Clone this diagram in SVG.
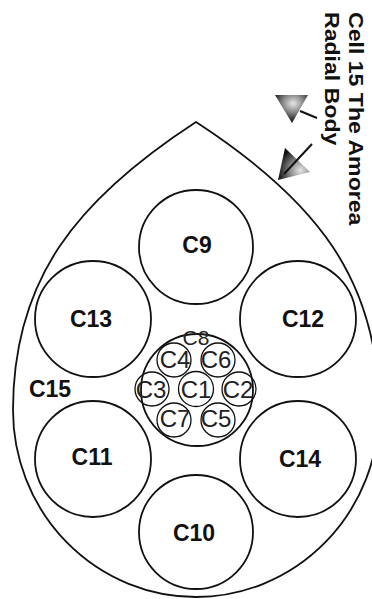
<svg xmlns="http://www.w3.org/2000/svg" width="372" height="599" viewBox="0 0 372 599">
  <style>
    .c { fill: #fff; stroke: #111; stroke-width: 1.8; }
    .s { fill: none; stroke: #111; stroke-width: 1.3; }
    .lb { font-family: "Liberation Sans", Arial, sans-serif; font-weight: bold; font-size: 23px; fill: #111; text-anchor: middle; }
    .ls { font-family: "Liberation Sans", Arial, sans-serif; font-size: 24px; fill: #222; text-anchor: middle; }
    .tt { font-family: "Liberation Sans", Arial, sans-serif; font-weight: bold; font-size: 21px; fill: #111; }
    .ln { stroke: #111; stroke-width: 2; fill: none; }
  </style>
  <defs>
    <radialGradient id="g1" cx="0.55" cy="0.3" r="0.7">
      <stop offset="0" stop-color="#e6e6e6"/>
      <stop offset="0.45" stop-color="#888"/>
      <stop offset="1" stop-color="#050505"/>
    </radialGradient>
    <radialGradient id="g2" cx="0.7" cy="0.7" r="0.75">
      <stop offset="0" stop-color="#e6e6e6"/>
      <stop offset="0.45" stop-color="#888"/>
      <stop offset="1" stop-color="#050505"/>
    </radialGradient>
  </defs>

  <g id="title">
    <text class="tt" transform="translate(349,12) rotate(90) scale(1.1,1)">Cell 15 The Amorea</text>
    <text class="tt" transform="translate(325,12) rotate(90) scale(1.1,1)">Radial Body</text>
  </g>

  <g id="C15">
    <path class="c" d="M196,122 C76,200 13,280 13,410 A183,187 0 0 0 379,410 C379,280 316,200 196,122 Z"/>
    <text class="lb" x="50" y="397">C15</text>
  </g>

  <g id="connectors">
    <line class="ln" x1="300" y1="111" x2="317" y2="118"/>
    <polygon points="275,95 308,95 292,123" fill="url(#g1)"/>
    <polygon points="285,148 310,172 278,180" fill="url(#g2)"/>
    <line class="ln" x1="312" y1="144" x2="284" y2="174"/>
  </g>

  <g id="C9"><circle class="c" cx="196" cy="247" r="57"/><text class="lb" x="197" y="253">C9</text></g>
  <g id="C13"><circle class="c" cx="93" cy="319" r="58"/><text class="lb" x="91" y="327">C13</text></g>
  <g id="C12"><circle class="c" cx="298" cy="319" r="58"/><text class="lb" x="303" y="327">C12</text></g>
  <g id="C11"><circle class="c" cx="93" cy="459" r="58"/><text class="lb" x="92" y="465">C11</text></g>
  <g id="C14"><circle class="c" cx="298" cy="459" r="58"/><text class="lb" x="300" y="467">C14</text></g>
  <g id="C10"><circle class="c" cx="196" cy="532" r="57"/><text class="lb" x="194" y="541">C10</text></g>

  <g id="C8">
    <circle class="c" cx="197" cy="390" r="56"/>
    <text class="ls" x="196" y="345" style="font-size:21px">C8</text>
  </g>
  <g id="C1"><circle class="s" cx="196" cy="389" r="17.5"/><text class="ls" x="196" y="398">C1</text></g>
  <g id="C3"><circle class="s" cx="152" cy="389" r="17"/><text class="ls" x="151" y="398">C3</text></g>
  <g id="C2"><circle class="s" cx="239" cy="389" r="17"/><text class="ls" x="238" y="398">C2</text></g>
  <g id="C4"><circle class="s" cx="174" cy="360" r="17"/><text class="ls" x="175" y="368">C4</text></g>
  <g id="C6"><circle class="s" cx="218" cy="360" r="17"/><text class="ls" x="216" y="368">C6</text></g>
  <g id="C7"><circle class="s" cx="174" cy="420" r="17"/><text class="ls" x="175" y="427">C7</text></g>
  <g id="C5"><circle class="s" cx="218" cy="420" r="17"/><text class="ls" x="216" y="427">C5</text></g>
</svg>
